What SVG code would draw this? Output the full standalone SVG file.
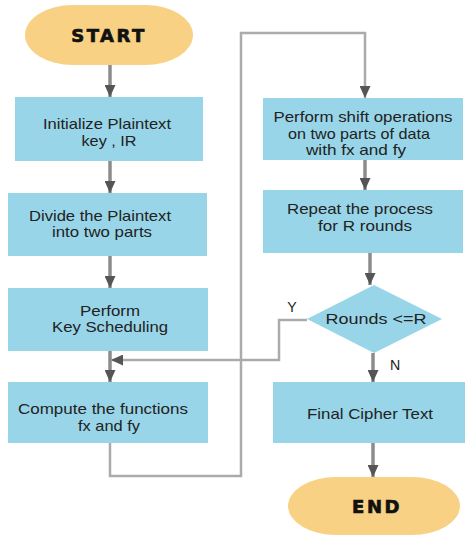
<svg xmlns="http://www.w3.org/2000/svg" width="466" height="535" viewBox="0 0 466 535">
<style>
.box{fill:#98D5E8;}
.term{fill:#F9D184;}
.t{font-family:"Liberation Sans",Arial,sans-serif;font-size:14.2px;fill:#222;text-anchor:middle;}
.tb{font-family:"DejaVu Sans","Liberation Sans",sans-serif;font-weight:bold;font-size:18px;fill:#111;stroke:#111;stroke-width:0.7;text-anchor:middle;letter-spacing:2.5px;}
.ln{fill:none;stroke:#8c8c8c;stroke-width:3.5;}
.lp{fill:none;stroke:#ababab;stroke-width:2.5;}
.ah{fill:#555;}
</style>
<defs>
<marker id="arr" markerWidth="12" markerHeight="11" refX="12" refY="5.5" orient="auto" markerUnits="userSpaceOnUse" viewBox="0 0 12 11">
<path d="M0,0 L12,5.5 L0,11 Z" class="ah"/>
</marker>
</defs>
<rect width="466" height="535" fill="#fff"/>
<g id="connectors">
<line class="ln" x1="110" y1="65" x2="110" y2="97" marker-end="url(#arr)"/>
<line class="ln" x1="110" y1="161" x2="110" y2="193" marker-end="url(#arr)"/>
<line class="ln" x1="110" y1="256" x2="110" y2="288" marker-end="url(#arr)"/>
<line class="ln" x1="110" y1="351" x2="110" y2="382" marker-end="url(#arr)"/>
<polyline class="lp" points="307,320 279,320 279,360 111,360" marker-end="url(#arr)"/>
<polyline class="lp" points="110,443 110,476 241,476 241,33 365,33 365,98" marker-end="url(#arr)"/>
<line class="ln" x1="365" y1="160" x2="365" y2="190" marker-end="url(#arr)"/>
<line class="ln" x1="370" y1="253" x2="370" y2="285" marker-end="url(#arr)"/>
<line class="ln" x1="373" y1="353" x2="373" y2="382" marker-end="url(#arr)"/>
<line class="ln" x1="373" y1="443" x2="373" y2="477" marker-end="url(#arr)"/>
<text class="t" x="292" y="312">Y</text>
<text class="t" x="395" y="370">N</text>
</g>
<g id="start">
<rect class="term" x="25" y="5" width="168" height="60" rx="48" ry="30"/>
<text class="tb" x="109" y="42">START</text>
</g>
<g id="init">
<rect class="box" x="15" y="97" width="188" height="64"/>
<text class="t" x="107" y="129" textLength="128" lengthAdjust="spacingAndGlyphs">Initialize Plaintext</text>
<text class="t" x="109" y="145.5" textLength="55" lengthAdjust="spacingAndGlyphs">key , IR</text>
</g>
<g id="divide">
<rect class="box" x="8" y="193" width="199" height="63"/>
<text class="t" x="100" y="220.75" textLength="142" lengthAdjust="spacingAndGlyphs">Divide the Plaintext</text>
<text class="t" x="102" y="237.25" textLength="100" lengthAdjust="spacingAndGlyphs">into two parts</text>
</g>
<g id="keysched">
<rect class="box" x="8" y="288" width="200" height="63"/>
<text class="t" x="110" y="315.75" textLength="60" lengthAdjust="spacingAndGlyphs">Perform</text>
<text class="t" x="110" y="332.25" textLength="116" lengthAdjust="spacingAndGlyphs">Key Scheduling</text>
</g>
<g id="compute">
<rect class="box" x="8" y="382" width="200" height="61"/>
<text class="t" x="103" y="414.25" textLength="170" lengthAdjust="spacingAndGlyphs">Compute the functions</text>
<text class="t" x="109" y="430.75" textLength="62" lengthAdjust="spacingAndGlyphs">fx and fy</text>
</g>
<g id="shift">
<rect class="box" x="263" y="98" width="200" height="62"/>
<text class="t" x="363" y="122" textLength="179" lengthAdjust="spacingAndGlyphs">Perform shift operations</text>
<text class="t" x="359" y="138.5" textLength="142" lengthAdjust="spacingAndGlyphs">on two parts of data</text>
<text class="t" x="356" y="155" textLength="100" lengthAdjust="spacingAndGlyphs">with fx and fy</text>
</g>
<g id="repeat">
<rect class="box" x="263" y="190" width="200" height="63"/>
<text class="t" x="360" y="214.25" textLength="146" lengthAdjust="spacingAndGlyphs">Repeat the process</text>
<text class="t" x="365" y="230.75" textLength="94" lengthAdjust="spacingAndGlyphs">for R rounds</text>
</g>
<g id="decision">
<polygon class="box" points="374,285 442,319 374,353 307,319"/>
<text class="t" x="376" y="324" textLength="101" lengthAdjust="spacingAndGlyphs">Rounds &lt;=R</text>
</g>
<g id="final">
<rect class="box" x="273" y="382" width="192" height="61"/>
<text class="t" x="370" y="419" textLength="126" lengthAdjust="spacingAndGlyphs">Final Cipher Text</text>
</g>
<g id="end">
<rect class="term" x="288" y="477" width="172" height="58" rx="48" ry="29"/>
<text class="tb" x="377" y="513">END</text>
</g>
</svg>
